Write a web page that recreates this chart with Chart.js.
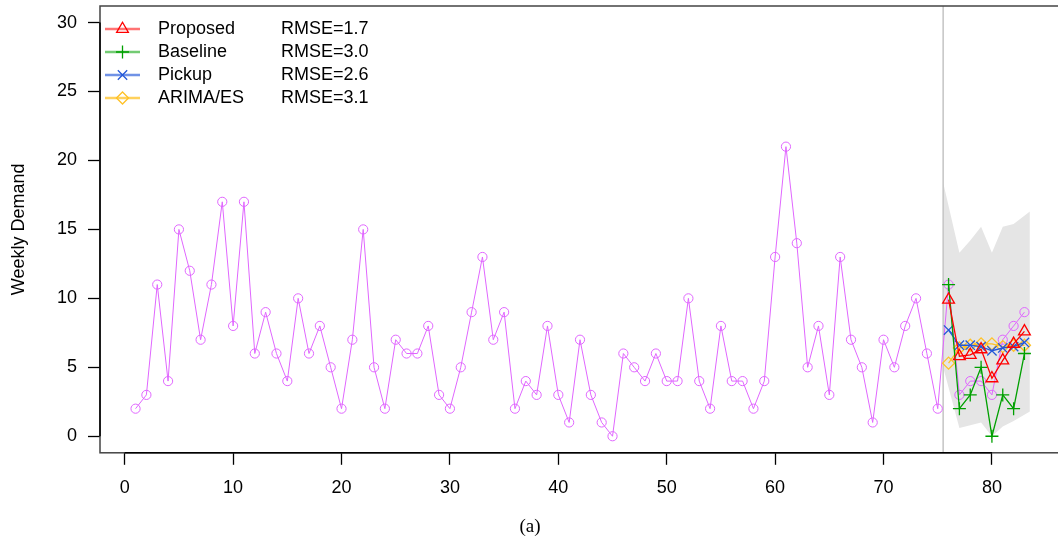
<!DOCTYPE html>
<html lang="en">
<head>
<meta charset="UTF-8">
<title>Weekly Demand</title>
<script src="https://cdn.jsdelivr.net/npm/chart.js"></script>
<style>
  html, body { margin: 0; padding: 0; background: #fff; overflow: hidden; }
  #wrap { width: 1058px; height: 546px; overflow: hidden; }
  canvas { display: block; }
</style>
</head>
<body>
<div id="wrap"><canvas id="chart" width="1062" height="546"></canvas></div>
<script>
  // observed weekly demand, weeks 1..83
  const demand = [2, 3, 11, 4, 15, 12, 7, 11, 17, 8, 17, 6, 9, 6, 4, 10, 6, 8, 5, 2,
    7, 15, 5, 2, 7, 6, 6, 8, 3, 2, 5, 9, 13, 7, 9, 2, 4, 3, 8, 3,
    1, 7, 3, 1, 0, 6, 5, 4, 6, 4, 4, 10, 4, 2, 8, 4, 4, 2, 4, 13,
    21, 14, 5, 8, 3, 13, 7, 5, 1, 7, 5, 8, 10, 6, 2,
    11, 3, 4, 4, 3, 7, 8, 9];

  // forecasts over the horizon
  const fcWeeks  = [76, 77, 78, 79, 80, 81, 82, 83];
  const proposed = [9.9, 5.8, 5.9, 6.3, 4.2, 5.5, 6.7, 7.6];
  const baseline = [11, 2, 3, 5, 0, 3, 2, 6];
  const pickup   = [7.7, 6.6, 6.6, 6.5, 6.2, 6.4, 6.5, 6.8];
  const arima    = [5.3, 6.4, 6.6, 6.7, 6.7, 6.5, 6.6, 6.6];

  // prediction band
  const bandX  = [75.5, 77, 78, 79, 80, 81, 82, 83.5];
  const bandHi = [18.4, 13.3, 14.2, 15.2, 13.3, 15.2, 15.4, 16.3];
  const bandLo = [5.0, 0.6, 0.8, 1.0, 0.0, 0.7, 1.1, 1.8];

  const splitWeek = 75.5;
  const xTicks = [0, 10, 20, 30, 40, 50, 60, 70, 80];
  const yTicks = [0, 5, 10, 15, 20, 25, 30];

  const methods = ['Proposed', 'Baseline', 'Pickup', 'ARIMA/ES'];
  const rmse = ['RMSE=1.7', 'RMSE=3.0', 'RMSE=2.6', 'RMSE=3.1'];
  const colors = ['#FF0000', '#00A000', '#2458D8', '#FFC125'];
  const legendLine = ['rgba(255,0,0,0.55)', 'rgba(0,160,0,0.55)', 'rgba(36,88,216,0.65)', 'rgba(255,193,37,0.75)'];
  const styles = ['triangle', 'cross', 'crossRot', 'rectRot'];
  const radii = [6.8, 6.5, 6.6, 6];

  const FONT = 'Liberation Sans, Arial, sans-serif';

  const pts = (xs, ys) => ys.map((y, i) => ({x: xs[i], y: y}));
  const weeks = demand.map((d, i) => i + 1);

  function fcSet(i, data, order) {
    return {
      label: methods[i], data: pts(fcWeeks, data), order: order,
      borderColor: colors[i], backgroundColor: 'rgba(0,0,0,0)', borderWidth: 1.3,
      pointStyle: styles[i], pointRadius: radii[i], pointBorderColor: colors[i],
      pointBorderWidth: 1.3, pointBackgroundColor: 'rgba(0,0,0,0)', tension: 0
    };
  }

  function drawMarker(ctx, style, x, y, r, color) {
    ctx.save();
    ctx.strokeStyle = color;
    ctx.lineWidth = 1.3;
    ctx.beginPath();
    if (style === 'triangle') {
      for (let k = 0; k < 3; k++) {
        const a = k * 2 * Math.PI / 3;
        const px = x + Math.sin(a) * r, py = y - Math.cos(a) * r;
        k ? ctx.lineTo(px, py) : ctx.moveTo(px, py);
      }
      ctx.closePath();
    } else if (style === 'cross') {
      ctx.moveTo(x - r, y); ctx.lineTo(x + r, y);
      ctx.moveTo(x, y - r); ctx.lineTo(x, y + r);
    } else if (style === 'crossRot') {
      const o = r * Math.SQRT1_2;
      ctx.moveTo(x - o, y - o); ctx.lineTo(x + o, y + o);
      ctx.moveTo(x - o, y + o); ctx.lineTo(x + o, y - o);
    } else {
      ctx.moveTo(x - r, y); ctx.lineTo(x, y - r); ctx.lineTo(x + r, y); ctx.lineTo(x, y + r);
      ctx.closePath();
    }
    ctx.stroke();
    ctx.restore();
  }

  // vertical split line, drawn right after the band
  const splitLine = {
    id: 'splitLine',
    afterDatasetDraw(chart, args) {
      if (chart.data.datasets[args.index].label !== 'bandLo') return;
      const ctx = chart.ctx, a = chart.chartArea;
      const x = chart.scales.x.getPixelForValue(splitWeek);
      ctx.save();
      ctx.strokeStyle = '#C4C4C4';
      ctx.lineWidth = 1.5;
      ctx.beginPath();
      ctx.moveTo(x, a.top); ctx.lineTo(x, a.bottom);
      ctx.stroke();
      ctx.restore();
    }
  };

  // box, axis lines and legend
  const frame = {
    id: 'frame',
    afterDraw(chart) {
      const ctx = chart.ctx, a = chart.chartArea;
      const sx = chart.scales.x, sy = chart.scales.y;
      ctx.save();
      ctx.strokeStyle = '#444';
      ctx.lineWidth = 1.5;
      ctx.strokeRect(a.left, a.top, a.right - a.left, a.bottom - a.top);
      ctx.strokeStyle = '#000';
      ctx.beginPath();
      ctx.moveTo(sx.getPixelForValue(xTicks[0]), a.bottom);
      ctx.lineTo(sx.getPixelForValue(xTicks[xTicks.length - 1]), a.bottom);
      ctx.moveTo(a.left, sy.getPixelForValue(yTicks[0]));
      ctx.lineTo(a.left, sy.getPixelForValue(yTicks[yTicks.length - 1]));
      ctx.stroke();

      // legend
      ctx.font = '18px ' + FONT;
      ctx.textBaseline = 'middle';
      ctx.textAlign = 'left';
      methods.forEach((m, i) => {
        const y = 29 + i * 23;
        ctx.strokeStyle = legendLine[i];
        ctx.lineWidth = 2.5;
        ctx.beginPath();
        ctx.moveTo(105, y); ctx.lineTo(140, y);
        ctx.stroke();
        drawMarker(ctx, styles[i], 122.5, y, radii[i], colors[i]);
        ctx.fillStyle = '#000';
        ctx.fillText(m, 158, y);
        ctx.fillText(rmse[i], 281, y);
      });
      ctx.restore();
    }
  };

  const noPad = s => { s.paddingTop = 0; s.paddingBottom = 0; s.paddingLeft = 0; s.paddingRight = 0; };

  new Chart(document.getElementById('chart'), {
    type: 'line',
    data: {
      datasets: [
        fcSet(0, proposed, 1),
        fcSet(1, baseline, 2),
        fcSet(2, pickup, 3),
        fcSet(3, arima, 4),
        {
          label: 'Observed', data: pts(weeks, demand), order: 5,
          borderColor: '#E066FF', borderWidth: 1, backgroundColor: 'rgba(0,0,0,0)',
          pointStyle: 'circle', pointRadius: 4.6, pointBorderColor: '#E066FF',
          pointBorderWidth: 1, pointBackgroundColor: 'rgba(0,0,0,0)', tension: 0
        },
        {
          label: 'bandHi', data: pts(bandX, bandHi), order: 7,
          borderWidth: 0, pointRadius: 0, fill: '+1', backgroundColor: '#E5E5E5', tension: 0
        },
        {
          label: 'bandLo', data: pts(bandX, bandLo), order: 6,
          borderWidth: 0, pointRadius: 0, fill: false, tension: 0
        }
      ]
    },
    options: {
      responsive: false,
      animation: false,
      layout: {autoPadding: false, padding: {top: 6, right: 2, left: 0, bottom: 0}},
      plugins: {
        legend: {display: false},
        tooltip: {enabled: false},
        title: {
          display: true, text: '(a)', position: 'bottom', color: '#000',
          font: {family: 'Liberation Serif, Times New Roman, serif', size: 19, weight: 'normal'},
          padding: {top: 0, bottom: 8}
        }
      },
      scales: {
        x: {
          type: 'linear', min: -2.28, max: 86.28,
          afterBuildTicks: s => { s.ticks = xTicks.map(v => ({value: v})); },
          afterFit: s => { s.height = 62.4; noPad(s); },
          ticks: {color: '#000', font: {family: FONT, size: 18}, padding: 12, maxRotation: 0},
          grid: {drawOnChartArea: false, drawTicks: true, tickLength: 12, tickColor: '#000', tickWidth: 1.3},
          border: {display: false}
        },
        y: {
          type: 'linear', min: -1.2, max: 31.2,
          afterBuildTicks: s => { s.ticks = yTicks.map(v => ({value: v})); },
          afterFit: s => { s.width = 100; noPad(s); },
          ticks: {color: '#000', font: {family: FONT, size: 18}, padding: 11},
          grid: {drawOnChartArea: false, drawTicks: true, tickLength: 12, tickColor: '#000', tickWidth: 1.3},
          border: {display: false},
          title: {display: true, text: 'Weekly Demand', color: '#000',
            font: {family: FONT, size: 18}, padding: {top: 8, bottom: 0}}
        }
      }
    },
    plugins: [splitLine, frame]
  });
</script>
</body>
</html>
